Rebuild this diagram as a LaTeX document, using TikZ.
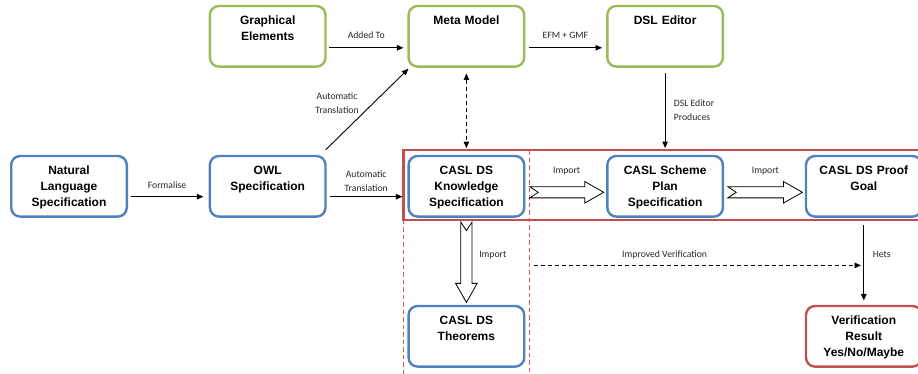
\documentclass[tikz,border=0pt]{standalone}
\usepackage{fontspec}
\setmainfont{Liberation Sans}
\newfontfamily\labelfont{Carlito}
\definecolor{myblue}{RGB}{79,129,189}
\definecolor{mygreen}{RGB}{155,187,89}
\definecolor{myred}{RGB}{192,80,77}
\definecolor{mypink}{RGB}{222,90,88}
\usetikzlibrary{positioning,calc,arrows.meta}
\tikzset{
  pics/importarrow/.style={
    code={
      \draw[bigarrow] (0,5.6) -- ({#1-19},5.6) -- ({#1-19},10.8) -- (#1,0)
        -- ({#1-19},-10.8) -- ({#1-19},-5.6) -- (0,-5.6) -- (8.5,0) -- cycle;
    }
  }
}
\begin{document}
\begin{tikzpicture}[
  x=1pt, y=1pt,
  node distance=87pt and 80.7pt,
  mybox/.style={
    draw,
    line width=2.4pt,
    rounded corners=9pt,
    text width=112pt,
    align=center,
    inner xsep=1.8pt,
    inner ysep=3pt,
    text height=15.3pt,
    text depth=39.3pt,
    font=\bfseries\fontsize{12}{16}\selectfont
    },
  bluebox/.style={mybox, draw=myblue},
  greenbox/.style={mybox, draw=mygreen},
  redbox/.style={mybox, draw=myred},
  lbl/.style={font=\labelfont\fontsize{9.7}{14}\selectfont, text=black!85, align=center},
  link/.style={line width=0.9pt, -{Triangle[length=6.5pt,width=5.5pt]}},
  dlink/.style={line width=0.9pt, dash pattern=on 4pt off 3pt,
    {Triangle[length=6.5pt,width=5.5pt]}-{Triangle[length=6.5pt,width=5.5pt]}},
  bigarrow/.style={draw=black, line width=0.8pt, fill=white},
  redframe/.style={draw=myred, line width=2.6pt},
  cutline/.style={draw=mypink, line width=1.3pt, dash pattern=on 4.5pt off 3pt}
]
\useasboundingbox (0,0) rectangle (918,374);

\node[bluebox] (nl) at (69,187.7) {Natural\\Language\\Specification};
\node[bluebox, right=of nl] (owl) {OWL\\Specification};
\node[bluebox, right=of owl] (know) {CASL DS\\Knowledge\\Specification};
\node[bluebox, right=of know] (plan) {CASL Scheme\\Plan\\Specification};
\node[bluebox, right=of plan] (goal) {CASL DS Proof\\Goal};
\node[greenbox, above=of owl] (ge) {Graphical\\Elements};
\node[greenbox, above=of know] (meta) {Meta Model};
\node[greenbox, above=of plan] (dsl) {DSL Editor};
\node[bluebox, below=of know] (thm) {CASL DS\\Theorems};
\node[redbox, below=of goal] (res) {Verification\\Result\\Yes/No/Maybe};

% red frame and cut lines
\coordinate (fnw) at ([xshift=-3.8pt,yshift=4.7pt]know.north west);
\coordinate (fse) at ([xshift=12pt,yshift=-2.1pt]goal.south east);
\coordinate (cut) at ([xshift=4.3pt]know.east);
\coordinate (fsw) at (fnw |- fse);
\coordinate (cutb) at (cut |- 0,0);
\draw[cutline] (fsw) -- (fsw |- cutb);
\draw[cutline] (cut |- fnw) -- (cutb);
\draw[redframe] (fnw) rectangle (fse);

\draw[link] ([xshift=2.3pt,yshift=-11.5pt]ge.east) -- node[lbl, yshift=12.6pt] (lb-added) {Added To} ([xshift=-4pt,yshift=-11.5pt]meta.west);
\draw[link] ([xshift=3.3pt,yshift=-11.5pt]meta.east) -- node[lbl, yshift=12.6pt] (lb-efm) {EFM + GMF} ([xshift=-4pt,yshift=-11.5pt]dsl.west);
\draw[link] ([xshift=2.7pt,yshift=-10.4pt]nl.east) -- node[lbl, yshift=11.7pt] (lb-form) {Formalise} ([xshift=-5.3pt,yshift=-10.4pt]owl.west);
\draw[link] ([xshift=3.3pt,yshift=-10.4pt]owl.east) -- node[lbl, yshift=15.7pt] (lb-auto) {Automatic\\Translation} ([xshift=-5pt,yshift=-10.4pt]know.west);
\draw[link] ([shift={(-1pt,5pt)}]owl.north east) -- node[lbl, xshift=-30pt, yshift=6pt] (lb-auto2) {Automatic\\Translation} ([shift={(1pt,-1pt)}]meta.south west);
\draw[dlink] ([yshift=-5.7pt]meta.south) -- ([yshift=6.7pt]know.north);
\draw[link] ([yshift=-5pt]dsl.south) -- node[lbl, right, align=left, xshift=5pt] (lb-prod) {DSL Editor\\Produces} ([yshift=6.7pt]plan.north);
\draw[link] ([yshift=-7.3pt]goal.south) -- node[lbl, xshift=18pt, yshift=8pt] (lb-hets) {Hets} ([yshift=4.3pt]res.north);

% improved verification
\coordinate (ivs) at ([xshift=8.3pt,yshift=-47.6pt]know.south east);
\draw[link, dash pattern=on 4pt off 3pt] (ivs) -- node[lbl, pos=0.4, yshift=10.3pt] (lb-impr) {Improved Verification} ($(ivs -| goal.south)+(-2.8pt,0)$);

% import arrows
\pic at ([xshift=4.3pt,yshift=-6pt]know.east) {importarrow=74};
\pic at ([xshift=3.7pt,yshift=-6pt]plan.east) {importarrow=74.6};
\pic[rotate=-90] at ([yshift=-4.3pt]know.south) {importarrow=80.3};
\node[lbl] (lb-imp1) at ([xshift=41.3pt,yshift=15.3pt]know.east) {Import};
\node[lbl] (lb-imp2) at ([xshift=41.3pt,yshift=15.3pt]plan.east) {Import};
\node[lbl] (lb-imp3) at ([xshift=26.4pt,yshift=-37.3pt]know.south) {Import};
\end{tikzpicture}
\end{document}
